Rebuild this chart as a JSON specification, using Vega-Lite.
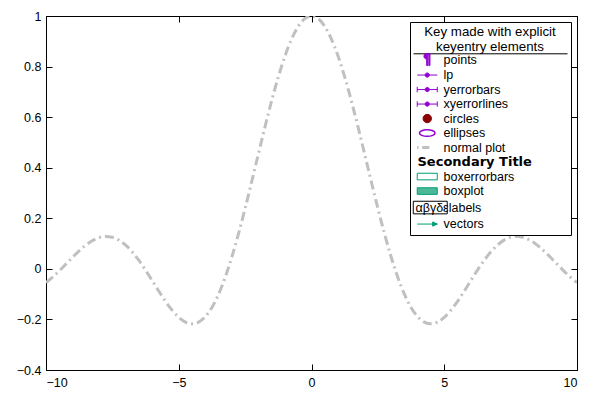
{
  "$schema": "https://vega.github.io/schema/vega-lite/v6.json",
  "width": 531,
  "height": 354,
  "autosize": "none",
  "padding": {"left": 46, "top": 16, "right": 23, "bottom": 30},
  "background": "white",
  "config": {
    "font": "Liberation Sans",
    "view": {"stroke": "black", "strokeWidth": 1},
    "axis": {"grid": false, "domain": false, "tickColor": "black", "tickSize": -6, "tickWidth": 1, "labelColor": "black", "labelFontSize": 12.5, "labelFont": "Liberation Sans", "title": null}
  },
  "datasets": {
    "curve": [
      {"x": -10, "y": -0.054402}, {"x": -9.75, "y": -0.032728}, {"x": -9.5, "y": -0.007911}, {"x": -9.25, "y": 0.018799},
      {"x": -9, "y": 0.045791}, {"x": -8.75, "y": 0.071397}, {"x": -8.5, "y": 0.09394}, {"x": -8.25, "y": 0.111831},
      {"x": -8, "y": 0.12367}, {"x": -7.75, "y": 0.128335}, {"x": -7.5, "y": 0.125067}, {"x": -7.25, "y": 0.113528},
      {"x": -7, "y": 0.093855}, {"x": -6.75, "y": 0.066673}, {"x": -6.5, "y": 0.033095}, {"x": -6.25, "y": -0.005309},
      {"x": -6, "y": -0.046569}, {"x": -5.75, "y": -0.088397}, {"x": -5.5, "y": -0.12828}, {"x": -5.25, "y": -0.163607},
      {"x": -5, "y": -0.191785}, {"x": -4.75, "y": -0.210377}, {"x": -4.5, "y": -0.217229}, {"x": -4.25, "y": -0.210586},
      {"x": -4, "y": -0.189201}, {"x": -3.75, "y": -0.152416}, {"x": -3.5, "y": -0.100224}, {"x": -3.25, "y": -0.033291},
      {"x": -3, "y": 0.04704}, {"x": -2.75, "y": 0.138786}, {"x": -2.5, "y": 0.239389}, {"x": -2.25, "y": 0.34581},
      {"x": -2, "y": 0.454649}, {"x": -1.75, "y": 0.562278}, {"x": -1.5, "y": 0.664997}, {"x": -1.25, "y": 0.759188},
      {"x": -1, "y": 0.841471}, {"x": -0.75, "y": 0.908852}, {"x": -0.5, "y": 0.958851}, {"x": -0.25, "y": 0.98962},
      {"x": 0, "y": 1},
      {"x": 0.25, "y": 0.98962}, {"x": 0.5, "y": 0.958851}, {"x": 0.75, "y": 0.908852}, {"x": 1, "y": 0.841471},
      {"x": 1.25, "y": 0.759188}, {"x": 1.5, "y": 0.664997}, {"x": 1.75, "y": 0.562278}, {"x": 2, "y": 0.454649},
      {"x": 2.25, "y": 0.34581}, {"x": 2.5, "y": 0.239389}, {"x": 2.75, "y": 0.138786}, {"x": 3, "y": 0.04704},
      {"x": 3.25, "y": -0.033291}, {"x": 3.5, "y": -0.100224}, {"x": 3.75, "y": -0.152416}, {"x": 4, "y": -0.189201},
      {"x": 4.25, "y": -0.210586}, {"x": 4.5, "y": -0.217229}, {"x": 4.75, "y": -0.210377}, {"x": 5, "y": -0.191785},
      {"x": 5.25, "y": -0.163607}, {"x": 5.5, "y": -0.12828}, {"x": 5.75, "y": -0.088397}, {"x": 6, "y": -0.046569},
      {"x": 6.25, "y": -0.005309}, {"x": 6.5, "y": 0.033095}, {"x": 6.75, "y": 0.066673}, {"x": 7, "y": 0.093855},
      {"x": 7.25, "y": 0.113528}, {"x": 7.5, "y": 0.125067}, {"x": 7.75, "y": 0.128335}, {"x": 8, "y": 0.12367},
      {"x": 8.25, "y": 0.111831}, {"x": 8.5, "y": 0.09394}, {"x": 8.75, "y": 0.071397}, {"x": 9, "y": 0.045791},
      {"x": 9.25, "y": 0.018799}, {"x": 9.5, "y": -0.007911}, {"x": 9.75, "y": -0.032728}, {"x": 10, "y": -0.054402}
    ],
    "key": [
      {"entry": "points"}, {"entry": "lp"}, {"entry": "yerrorbars"}, {"entry": "xyerrorlines"},
      {"entry": "circles"}, {"entry": "ellipses"}, {"entry": "normal plot"}, {"entry": "Secondary Title"},
      {"entry": "boxerrorbars"}, {"entry": "boxplot"}, {"entry": "labels"}, {"entry": "vectors"}
    ]
  },
  "layer": [
    {
      "data": {"name": "curve"},
      "mark": {"type": "line", "color": "#c0c0c0", "strokeWidth": 3, "strokeDash": [9, 4, 2, 4], "interpolate": "monotone", "clip": true},
      "encoding": {
        "x": {"field": "x", "type": "quantitative", "scale": {"domain": [-10, 10], "nice": false, "zero": false},
              "axis": {"orient": "bottom", "values": [-10, -5, 0, 5, 10], "format": "d", "labelPadding": 12}},
        "y": {"field": "y", "type": "quantitative", "scale": {"domain": [-0.4, 1], "nice": false, "zero": false},
              "axis": {"orient": "left", "values": [-0.4, -0.2, 0, 0.2, 0.4, 0.6, 0.8, 1], "format": "~g", "labelPadding": 11}}
      }
    },
    {
      "data": {"name": "curve"},
      "mark": {"type": "line", "opacity": 0},
      "encoding": {
        "x": {"field": "x", "type": "quantitative", "axis": {"orient": "top", "labels": false, "values": [-10, -5, 0, 5, 10]}},
        "y": {"field": "y", "type": "quantitative", "axis": {"orient": "right", "labels": false, "values": [-0.4, -0.2, 0, 0.2, 0.4, 0.6, 0.8, 1]}}
      }
    },
    {
      "data": {"name": "key"},
      "mark": {"type": "point", "opacity": 0},
      "encoding": {
        "color": {
          "field": "entry", "type": "nominal",
          "scale": {
            "domain": ["points", "lp", "yerrorbars", "xyerrorlines", "circles", "ellipses", "normal plot", "Secondary Title", "boxerrorbars", "boxplot", "labels", "vectors"],
            "range": ["#9400d3", "#9400d3", "#9400d3", "#9400d3", "#8b0000", "#9400d3", "#c0c0c0", "#ffffff", "#009e73", "#009e73", "#000000", "#009e73"]
          },
          "legend": {
            "title": ["Key made with explicit", "keyentry elements"],
            "orient": "top-right",
            "offset": 6,
            "padding": 3,
            "strokeColor": "black",
            "fillColor": "white",
            "titleFontSize": 13.3,
            "titleFontWeight": "normal",
            "titleColor": "black",
            "titleFont": "Liberation Sans",
            "titleAnchor": "middle",
            "titleAlign": "center",
            "titleLineHeight": 15,
            "titlePadding": 0,
            "titleLimit": 300,
            "labelFontSize": 12.5,
            "labelColor": "black",
            "labelFont": "Liberation Sans",
            "labelOffset": 10,
            "labelLimit": 300,
            "symbolSize": 144,
            "symbolOffset": 8,
            "symbolOpacity": 1,
            "rowPadding": -0.5,
            "labelExpr": "datum.value === 'labels' ? 'αβγδεlabels' : datum.label",
            "encoding": {
              "symbols": {
                "shape": {"value": {"expr": "{'points': 'M0.45,-1 L-0.1,-1 C-0.7,-1 -0.7,-0.1 -0.1,-0.1 L-0.1,1 L0.08,1 L0.08,-0.85 L0.27,-0.85 L0.27,1 L0.45,1 Z', 'lp': 'M-1.67,0 L1.67,0 M-0.35,0 A0.35,0.35 0 1 0 0.35,0 A0.35,0.35 0 1 0 -0.35,0 Z', 'yerrorbars': 'M-1.67,-0.45 L-1.67,0.45 M1.67,-0.45 L1.67,0.45 M-1.67,0 L1.67,0 M-0.35,0 A0.35,0.35 0 1 0 0.35,0 A0.35,0.35 0 1 0 -0.35,0 Z', 'xyerrorlines': 'M-1.67,-0.45 L-1.67,0.45 M1.67,-0.45 L1.67,0.45 M-1.67,0 L1.67,0 M-0.35,0 A0.35,0.35 0 1 0 0.35,0 A0.35,0.35 0 1 0 -0.35,0 Z', 'circles': 'M-0.7,0 A0.7,0.7 0 1 0 0.7,0 A0.7,0.7 0 1 0 -0.7,0 Z', 'ellipses': 'M-1.3,0 A1.3,0.55 0 1 0 1.3,0 A1.3,0.55 0 1 0 -1.3,0 Z', 'normal plot': 'M-1.67,0 L-1.45,0 M-0.85,0 L0.35,0', 'Secondary Title': 'M0,0 L23.0,0', 'boxerrorbars': 'M-1.67,-0.55 L1.67,-0.55 L1.67,0.55 L-1.67,0.55 Z', 'boxplot': 'M-1.67,-0.55 L1.67,-0.55 L1.67,0.55 L-1.67,0.55 Z', 'labels': 'M-2.33,-1.05 L3.33,-1.05 L3.33,1.05 L-2.33,1.05 Z', 'vectors': 'M-1.67,0 L1.67,0 M1.67,0 L0.9,-0.35 L0.9,0.35 Z'}[datum.value]"}},
                "fill": {"value": {"expr": "{'points': '#9400d3', 'lp': '#9400d3', 'yerrorbars': '#9400d3', 'xyerrorlines': '#9400d3', 'circles': '#8b0000', 'boxplot': '#4cb999', 'vectors': '#009e73'}[datum.value] || 'transparent'"}},
                "stroke": {"value": {"expr": "{'points': 'transparent', 'lp': '#9400d3', 'yerrorbars': '#9400d3', 'xyerrorlines': '#9400d3', 'circles': '#8b0000', 'ellipses': '#9400d3', 'normal plot': '#c0c0c0', 'Secondary Title': 'transparent', 'boxerrorbars': '#009e73', 'boxplot': '#009e73', 'labels': '#000000', 'vectors': '#009e73'}[datum.value]"}},
                "strokeWidth": {"value": {"expr": "datum.value === 'normal plot' ? 3 : datum.value === 'ellipses' ? 1.5 : 1"}},
                "opacity": {"value": 1}
              },
              "labels": {
                "fontWeight": {"value": {"expr": "datum.value === 'Secondary Title' ? 'bold' : 'normal'"}},
                "font": {"value": {"expr": "datum.value === 'Secondary Title' ? 'DejaVu Sans' : 'Liberation Sans'"}},
                "fontSize": {"value": {"expr": "datum.value === 'Secondary Title' ? 13 : 12.5"}},
                "dx": {"value": {"expr": "datum.value === 'Secondary Title' ? -26 : datum.value === 'labels' ? -28 : 0"}}
              },
              "entries": {
                "stroke": {"value": {"expr": "(datum.index === 0 || datum.value === 'points' || (datum.datum && datum.datum.value === 'points')) ? 'black' : 'transparent'"}},
                "strokeWidth": {"value": 1},
                "width": {"value": 154},
                "height": {"value": 12},
                "strokeDash": {"value": [154, 10000]}
              }
            }
          }
        }
      }
    }
  ],
  "resolve": {"axis": {"x": "independent", "y": "independent"}}
}
